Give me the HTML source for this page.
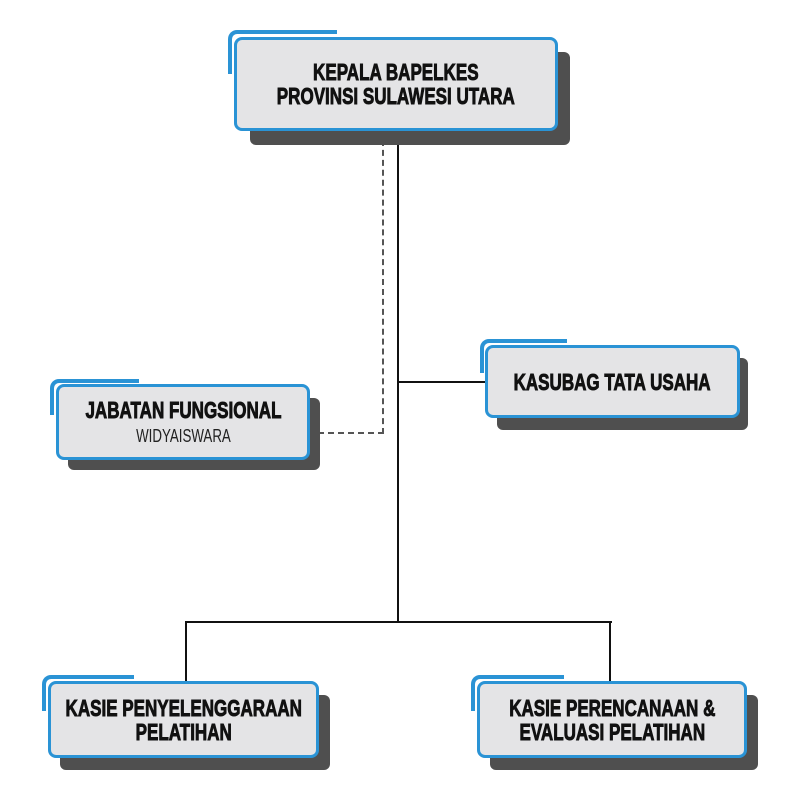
<!DOCTYPE html>
<html><head><meta charset="utf-8"><style>
body{margin:0;width:800px;height:800px;background:#fff;position:relative;overflow:hidden;font-family:"Liberation Sans",sans-serif}
.a{position:absolute}
.sh{position:absolute;background:#4f4f4f;border-radius:6px}
.bx{position:absolute;background:#e4e4e6;border:3px solid #2a93d5;border-radius:8px;box-sizing:border-box;display:flex;align-items:center;justify-content:center;text-align:center}
.acc{position:absolute;border-top:4px solid #2a93d5;border-left:4px solid #2a93d5;border-top-left-radius:9px}
.t{display:inline-block;transform:scaleX(0.74);font-weight:bold;font-size:23px;line-height:24px;color:#111;white-space:nowrap;-webkit-text-stroke:0.9px #111}
.s{font-weight:normal;font-size:18px;line-height:22px;color:#222;-webkit-text-stroke:0}
.l{position:absolute;background:#111}
</style></head><body>
<div class="l" style="left:397px;top:140px;width:2px;height:483px"></div>
<div class="l" style="left:398px;top:381px;width:90px;height:2px"></div>
<div class="l" style="left:185px;top:621px;width:427px;height:2px"></div>
<div class="l" style="left:185px;top:621px;width:2px;height:62px"></div>
<div class="l" style="left:609px;top:621px;width:2px;height:62px"></div>
<div class="a" style="left:382px;top:140px;width:0;height:294px;border-left:2px dashed #555"></div>
<div class="a" style="left:318px;top:432px;width:66px;height:0;border-top:2px dashed #555"></div>

<div class="acc" style="left:228px;top:30px;width:105px;height:40px"></div>
<div class="sh" style="left:250px;top:52px;width:320px;height:93px"></div>
<div class="bx" style="left:234px;top:37px;width:324px;height:94px"><span class="t">KEPALA BAPELKES<br>PROVINSI SULAWESI UTARA</span></div>

<div class="acc" style="left:50px;top:379px;width:85px;height:32px"></div>
<div class="sh" style="left:68px;top:398px;width:252px;height:72px"></div>
<div class="bx" style="left:56px;top:384px;width:254px;height:76px"><span class="t">JABATAN FUNGSIONAL<br><span class="s">WIDYAISWARA</span></span></div>

<div class="acc" style="left:480px;top:339px;width:83px;height:30px"></div>
<div class="sh" style="left:497px;top:358px;width:251px;height:72px"></div>
<div class="bx" style="left:485px;top:345px;width:255px;height:73px"><span class="t">KASUBAG TATA USAHA</span></div>

<div class="acc" style="left:42px;top:675px;width:88px;height:32px"></div>
<div class="sh" style="left:60px;top:695px;width:270px;height:75px"></div>
<div class="bx" style="left:48px;top:681px;width:271px;height:77px"><span class="t">KASIE PENYELENGGARAAN<br>PELATIHAN</span></div>

<div class="acc" style="left:471px;top:675px;width:89px;height:32px"></div>
<div class="sh" style="left:490px;top:695px;width:268px;height:75px"></div>
<div class="bx" style="left:477px;top:681px;width:270px;height:77px"><span class="t">KASIE PERENCANAAN &amp;<br>EVALUASI PELATIHAN</span></div>
</body></html>
